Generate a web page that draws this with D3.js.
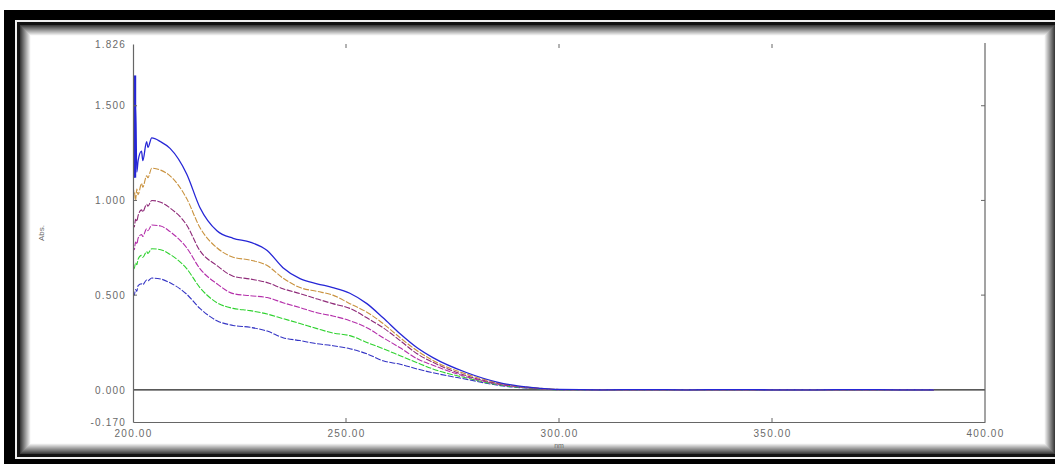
<!DOCTYPE html>
<html>
	<head>
		<meta charset="utf-8"/>
		<title>Spectra</title>
		<script src="https://d3js.org/d3.v7.min.js"></script>
	</head>
	<style>
	body{ margin:0; background:#fff; }
	svg text{ font-family:"Liberation Sans", Arial, sans-serif; fill:#6a6a6a; }
	</style>
	<body>
	<div id='well'></div>
	<script>
		// wavelengths (nm) shared by all traces
		var wavelength = [200.0, 200.3, 200.6, 200.9, 201.2, 202.0, 202.3, 203.2, 203.5, 204.4, 206.5, 208.7, 212.6, 215.7, 219.7, 223.5, 227.5, 231.5, 235.2, 239.2, 243.2, 246.9, 250.9, 254.9, 258.7, 262.7, 266.7, 270.4, 278.4, 286.2, 293.9, 300, 310, 320, 330, 340, 350, 360, 370, 380, 388];

		var absBlue   = [1.66, 1.12, 1.50, 1.15, 1.21, 1.26, 1.21, 1.31, 1.28, 1.33, 1.31, 1.275, 1.14, 0.963, 0.84, 0.80, 0.78, 0.735, 0.645, 0.587, 0.56, 0.54, 0.51, 0.455, 0.38, 0.296, 0.222, 0.17, 0.09, 0.037, 0.012, 0.002, 0, 0.001, 0, 0.001, 0, 0, 0.001, 0, 0];
		var absOrange = [1.02, 1.05, 1.00, 1.06, 1.03, 1.09, 1.07, 1.13, 1.12, 1.17, 1.16, 1.13, 1.01, 0.857, 0.75, 0.70, 0.685, 0.656, 0.59, 0.54, 0.52, 0.50, 0.455, 0.41, 0.35, 0.275, 0.206, 0.155, 0.082, 0.034, 0.011, 0.002, 0, 0, 0.001, 0, 0, 0.001, 0, 0, 0];
		var absPurple = [0.88, 0.86, 0.90, 0.89, 0.92, 0.95, 0.94, 0.98, 0.97, 1.00, 0.99, 0.96, 0.87, 0.735, 0.656, 0.60, 0.585, 0.566, 0.534, 0.508, 0.48, 0.455, 0.43, 0.38, 0.328, 0.26, 0.19, 0.145, 0.074, 0.031, 0.010, 0.002, 0.001, 0, 0, 0, 0.001, 0, 0, 0.001, 0];
		var absMagenta= [0.76, 0.74, 0.78, 0.77, 0.80, 0.82, 0.81, 0.85, 0.84, 0.87, 0.865, 0.835, 0.75, 0.64, 0.56, 0.508, 0.497, 0.487, 0.46, 0.434, 0.407, 0.39, 0.365, 0.328, 0.275, 0.222, 0.164, 0.13, 0.068, 0.028, 0.009, 0.001, 0, 0.001, 0, 0, 0, 0.001, 0, 0, 0];
		var absGreen  = [0.645, 0.64, 0.67, 0.66, 0.69, 0.71, 0.70, 0.73, 0.72, 0.745, 0.74, 0.715, 0.64, 0.54, 0.46, 0.43, 0.418, 0.40, 0.376, 0.35, 0.323, 0.30, 0.286, 0.25, 0.217, 0.18, 0.143, 0.11, 0.062, 0.025, 0.008, 0.001, 0, 0, 0.001, 0, 0.001, 0, 0.001, 0, 0];
		var absBlue2  = [0.51, 0.50, 0.53, 0.52, 0.55, 0.56, 0.555, 0.58, 0.575, 0.59, 0.585, 0.565, 0.505, 0.43, 0.365, 0.34, 0.33, 0.31, 0.275, 0.26, 0.243, 0.233, 0.217, 0.19, 0.153, 0.135, 0.11, 0.09, 0.055, 0.022, 0.007, 0.001, 0, 0, 0, 0.001, 0, 0, 0, 0.001, 0];

		var seriesColors = ['#2626d6', '#c9923e', '#8e2a78', '#b42eaa', '#2fd22f', '#3434c4'];
		var yTicks = [-0.170, 0.000, 0.500, 1.000, 1.500, 1.826];
		var yTickLabels = ['-0.170', '0.000', '0.500', '1.000', '1.500', '1.826'];
		var xTicks = [200, 250, 300, 350, 400];
		var xTickLabels = ['200.00', '250.00', '300.00', '350.00', '400.00'];

		var series = [absBlue, absOrange, absPurple, absMagenta, absGreen, absBlue2];

		var width = 1055, height = 464;
		var svg = d3.select('#well').append('svg')
			.attr('width', width)
			.attr('height', height);

		// frame: thick black border, white gap, thin inner line + inset shadow
		svg.append('rect').attr('x', 4).attr('y', 10).attr('width', 1060).attr('height', 470).attr('fill', '#000');
		svg.append('rect').attr('x', 15).attr('y', 20).attr('width', 1060).attr('height', 439).attr('fill', '#eee');
		svg.append('rect').attr('x', 17).attr('y', 22).attr('width', 1060).attr('height', 435).attr('fill', '#111');
		for (var k = 0; k < 11; k++){
			var g = Math.round(60 + k * 19);
			svg.append('rect')
				.attr('x', 20 + k).attr('y', 25 + k)
				.attr('width', 1035 - 2 * k).attr('height', 429 - 2 * k)
				.attr('fill', 'rgb(' + g + ',' + g + ',' + g + ')');
		}
		svg.append('rect').attr('x', 31).attr('y', 36).attr('width', 1013).attr('height', 407).attr('fill', '#fff');

		var x = d3.scaleLinear().domain([200, 400]).range([133, 985]);
		var y = d3.scaleLinear().domain([-0.170, 1.826]).range([422, 44]);

		var axisColor = '#666';
		var main = svg.append('g');

		// zero line
		main.append('line')
			.attr('x1', x(200)).attr('x2', x(400))
			.attr('y1', y(0)).attr('y2', y(0))
			.attr('stroke', '#222').attr('stroke-width', 1.3);

		svg.append('clipPath').attr('id', 'plot')
			.append('rect').attr('x', x(200)).attr('y', y(1.826) - 1)
			.attr('width', x(400) - x(200)).attr('height', y(-0.170) - y(1.826) + 1);

		var line = d3.line()
			.x(function(d, i){ return x(wavelength[i]); })
			.y(function(d){ return y(d); })
			.curve(d3.curveMonotoneX);

		var traces = main.append('g').attr('clip-path', 'url(#plot)');
		series.slice().reverse().forEach(function(s, j){
			var idx = series.length - 1 - j;
			traces.append('path')
				.attr('d', line(s))
				.attr('fill', 'none')
				.attr('stroke', seriesColors[idx])
				.attr('stroke-width', idx === 0 ? 1.3 : 1.1)
				.attr('stroke-dasharray', idx === 0 ? null : '6,1.5');
		});
		// thick start of the top trace (noisy spike)
		traces.append('line')
			.attr('x1', x(200.4)).attr('x2', x(200.4))
			.attr('y1', y(1.66)).attr('y2', y(1.12))
			.attr('stroke', seriesColors[0]).attr('stroke-width', 3);

		// axes: left, bottom and right lines, inward ticks
		var bottomAxis = d3.axisBottom(x).tickValues(xTicks).tickSize(0)
			.tickFormat(function(d, i){ return xTickLabels[i]; }).tickPadding(8);
		var ba = main.append('g').attr('transform', 'translate(0,' + y(-0.170) + ')').call(bottomAxis);
		var leftAxis = d3.axisLeft(y).tickValues(yTicks).tickSize(0)
			.tickFormat(function(d, i){ return yTickLabels[i]; }).tickPadding(7);
		var la = main.append('g').attr('transform', 'translate(' + x(200) + ',0)').call(leftAxis);
		[ba, la].forEach(function(a){
			a.select('.domain').attr('stroke', axisColor).attr('stroke-width', 1.2);
			a.selectAll('text').attr('font-size', 10).attr('letter-spacing', '1.2px').attr('fill', '#6a6a6a');
		});
		main.append('line')
			.attr('x1', x(400)).attr('x2', x(400))
			.attr('y1', y(1.826) - 1).attr('y2', y(-0.170))
			.attr('stroke', axisColor).attr('stroke-width', 1.2);

		var inner = [250, 300, 350];
		inner.forEach(function(v){
			main.append('line').attr('x1', x(v)).attr('x2', x(v))
				.attr('y1', y(-0.170)).attr('y2', y(-0.170) - 4).attr('stroke', axisColor);
			main.append('line').attr('x1', x(v)).attr('x2', x(v))
				.attr('y1', y(1.826)).attr('y2', y(1.826) + 4).attr('stroke', axisColor);
		});
		[0.5, 1.0, 1.5].forEach(function(v){
			main.append('line').attr('x1', x(200)).attr('x2', x(200) + 4)
				.attr('y1', y(v)).attr('y2', y(v)).attr('stroke', axisColor);
			main.append('line').attr('x1', x(400)).attr('x2', x(400) - 4)
				.attr('y1', y(v)).attr('y2', y(v)).attr('stroke', axisColor);
		});

		// axis titles
		main.append('text')
			.attr('x', x(300)).attr('y', 448)
			.attr('text-anchor', 'middle')
			.attr('font-size', 7)
			.text('nm');
		main.append('text')
			.attr('transform', 'translate(44,' + 233 + ') rotate(-90)')
			.attr('text-anchor', 'middle')
			.attr('font-size', 8)
			.attr('fill', '#444')
			.text('Abs.');
	</script>
	</body>
</html>
